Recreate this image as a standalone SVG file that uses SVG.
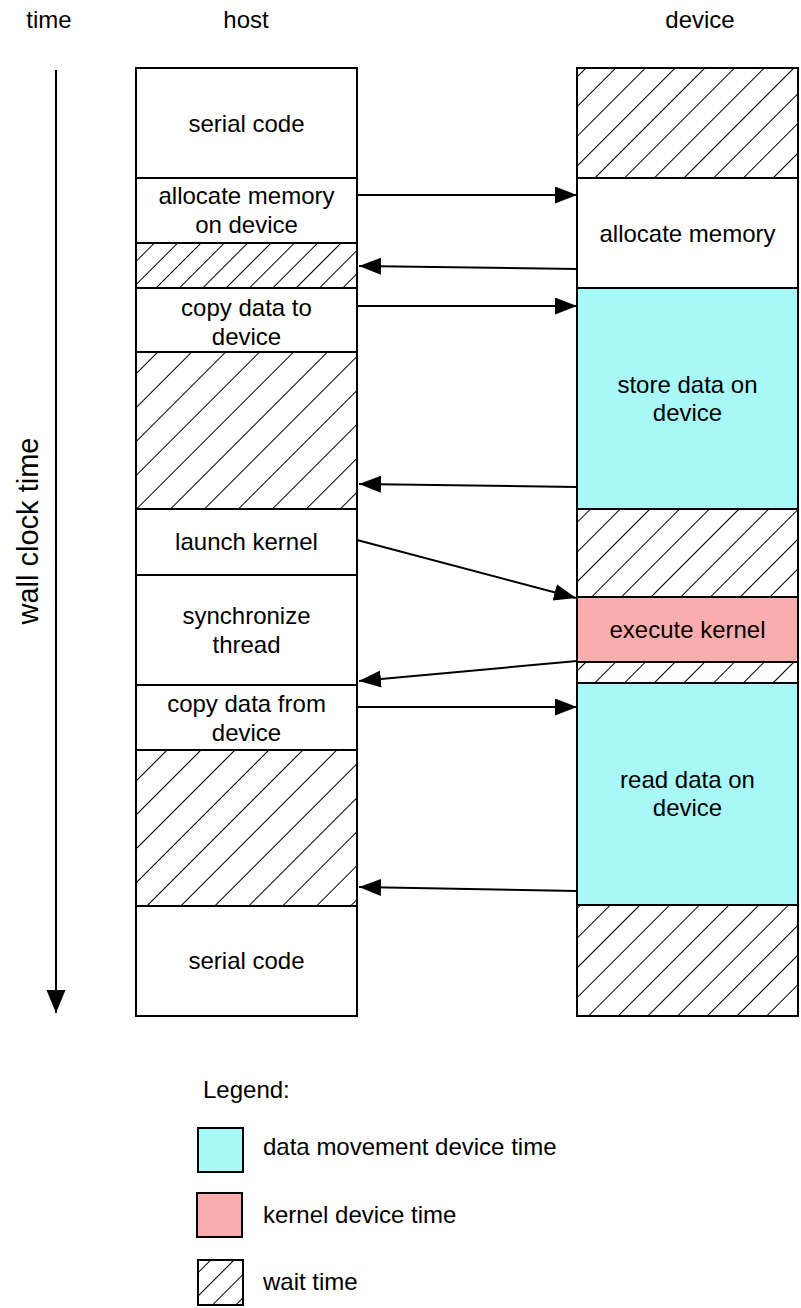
<svg xmlns="http://www.w3.org/2000/svg" width="801" height="1308" viewBox="0 0 801 1308">
<style>
text{font-family:"Liberation Sans",Arial,sans-serif;font-size:24px;fill:#000;text-anchor:middle}
.cell{stroke:#000;stroke-width:2}
.w{fill:#fff}
.cy{fill:#a8f8f8}
.pk{fill:#fbadad}
.conn{stroke:#000;stroke-width:2;fill:none}
.lt{text-anchor:start}
</style>
<defs>
<pattern id="hatchS" width="16.5" height="16.5" patternUnits="userSpaceOnUse" patternTransform="rotate(45)"><rect width="16.5" height="16.5" fill="#fff"/><line x1="0" y1="0" x2="0" y2="16.5" stroke="#000" stroke-width="2"/></pattern>
<pattern id="hatchM" width="21" height="21" patternUnits="userSpaceOnUse" patternTransform="rotate(45)"><rect width="21" height="21" fill="#fff"/><line x1="0" y1="0" x2="0" y2="21" stroke="#000" stroke-width="2"/></pattern>
<pattern id="hatchL" width="24" height="24" patternUnits="userSpaceOnUse" patternTransform="rotate(45)"><rect width="24" height="24" fill="#fff"/><line x1="0" y1="0" x2="0" y2="24" stroke="#000" stroke-width="2"/></pattern>
<marker id="ah" markerUnits="userSpaceOnUse" markerWidth="24" markerHeight="18" refX="22" refY="8.5" orient="auto"><path d="M0,0 L22,8.5 L0,17 z" fill="#000"/></marker>
<marker id="ahT" markerUnits="userSpaceOnUse" markerWidth="25" markerHeight="20" refX="23" refY="9.5" orient="auto"><path d="M0,0 L23,9.5 L0,19 z" fill="#000"/></marker>
</defs>
<rect width="801" height="1308" fill="#fff"/>

<g id="headers">
<text x="49" y="28">time</text>
<text x="246" y="28">host</text>
<text x="700" y="28">device</text>
<text transform="translate(38,531) rotate(-90)" x="0" y="0" style="font-size:29px">wall clock time</text>
</g>

<g id="host-serial-1"><rect class="cell w" x="136" y="68" width="221" height="110"/><text x="246.5" y="132">serial code</text></g>
<g id="host-allocate"><rect class="cell w" x="136" y="178" width="221" height="65"/><text x="246.5" y="204">allocate memory</text><text x="246.5" y="233">on device</text></g>
<g id="host-wait-1"><rect class="cell" fill="url(#hatchS)" x="136" y="243" width="221" height="45"/></g>
<g id="host-copy-to"><rect class="cell w" x="136" y="288" width="221" height="64"/><text x="246.5" y="316">copy data to</text><text x="246.5" y="345">device</text></g>
<g id="host-wait-2"><rect class="cell" fill="url(#hatchL)" x="136" y="352" width="221" height="157"/></g>
<g id="host-launch"><rect class="cell w" x="136" y="509" width="221" height="66"/><text x="246.5" y="550">launch kernel</text></g>
<g id="host-sync"><rect class="cell w" x="136" y="575" width="221" height="110"/><text x="246.5" y="624">synchronize</text><text x="246.5" y="653">thread</text></g>
<g id="host-copy-from"><rect class="cell w" x="136" y="685" width="221" height="65"/><text x="246.5" y="712">copy data from</text><text x="246.5" y="741">device</text></g>
<g id="host-wait-3"><rect class="cell" fill="url(#hatchL)" x="136" y="750" width="221" height="156"/></g>
<g id="host-serial-2"><rect class="cell w" x="136" y="906" width="221" height="110"/><text x="246.5" y="969">serial code</text></g>

<g id="dev-wait-1"><rect class="cell" fill="url(#hatchM)" x="577" y="68" width="221" height="110"/></g>
<g id="dev-allocate"><rect class="cell w" x="577" y="178" width="221" height="110"/><text x="687.5" y="242">allocate memory</text></g>
<g id="dev-store"><rect class="cell cy" x="577" y="288" width="221" height="221"/><text x="687.5" y="393">store data on</text><text x="687.5" y="421">device</text></g>
<g id="dev-wait-2"><rect class="cell" fill="url(#hatchM)" x="577" y="509" width="221" height="88"/></g>
<g id="dev-execute"><rect class="cell pk" x="577" y="597" width="221" height="65"/><text x="687.5" y="638">execute kernel</text></g>
<g id="dev-wait-3"><rect class="cell" fill="url(#hatchM)" x="577" y="662" width="221" height="21"/></g>
<g id="dev-read"><rect class="cell cy" x="577" y="683" width="221" height="222"/><text x="687.5" y="788">read data on</text><text x="687.5" y="816">device</text></g>
<g id="dev-wait-4"><rect class="cell" fill="url(#hatchM)" x="577" y="905" width="221" height="111"/></g>

<g id="connectors">
<line class="conn" x1="56" y1="70" x2="56" y2="1013" marker-end="url(#ahT)"/>
<line class="conn" x1="357" y1="195" x2="577" y2="195" marker-end="url(#ah)"/>
<line class="conn" x1="577" y1="269" x2="359" y2="266" marker-end="url(#ah)"/>
<line class="conn" x1="357" y1="306" x2="577" y2="306" marker-end="url(#ah)"/>
<line class="conn" x1="577" y1="487" x2="359" y2="484" marker-end="url(#ah)"/>
<line class="conn" x1="357" y1="540" x2="576" y2="598" marker-end="url(#ah)"/>
<line class="conn" x1="577" y1="661" x2="359" y2="681" marker-end="url(#ah)"/>
<line class="conn" x1="357" y1="707" x2="577" y2="707" marker-end="url(#ah)"/>
<line class="conn" x1="577" y1="891" x2="359" y2="887" marker-end="url(#ah)"/>
</g>

<g id="legend">
<text class="lt" x="203" y="1098">Legend:</text>
<g id="legend-data"><rect class="cell cy" x="198" y="1128" width="45" height="44"/><text class="lt" x="263" y="1155">data movement device time</text></g>
<g id="legend-kernel"><rect class="cell pk" x="197" y="1193" width="45" height="44"/><text class="lt" x="263" y="1223">kernel device time</text></g>
<g id="legend-wait"><rect class="cell" fill="url(#hatchS)" x="198" y="1260" width="45" height="45"/><text class="lt" x="263" y="1290">wait time</text></g>
</g>
</svg>
